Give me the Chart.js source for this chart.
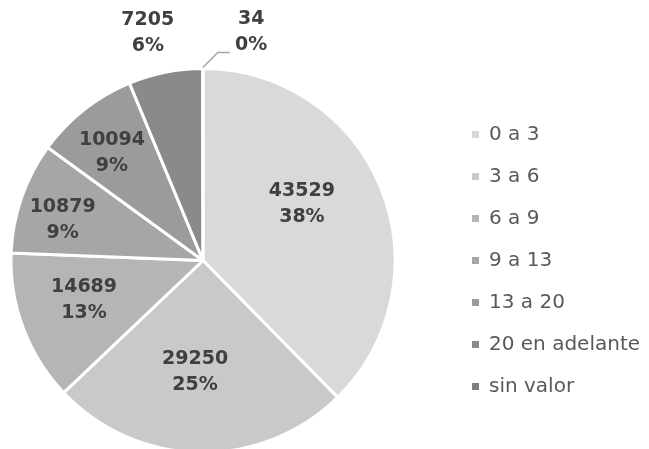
<!DOCTYPE html>
<html>
<head>
<meta charset="utf-8">
<script src="https://cdn.jsdelivr.net/npm/chart.js@4/dist/chart.umd.min.js"></script>
<style>
  html, body { margin: 0; padding: 0; background: #ffffff; overflow: hidden; }
  #frame { position: relative; width: 649px; height: 449px; overflow: hidden; background: #ffffff; }
  #c { position: absolute; left: -44px; top: 0; }
</style>
</head>
<body>
<div id="frame"><canvas id="c" width="693" height="460"></canvas></div>
<script>
// ---- data ----
const categories = ['0 a 3', '3 a 6', '6 a 9', '9 a 13', '13 a 20', '20 en adelante', 'sin valor'];
const values = [43529, 29250, 14689, 10879, 10094, 7205, 34];
const sliceColors = ['#d9d9d9', '#c9c9c9', '#b5b5b5', '#a6a6a6', '#9b9b9b', '#8a8a8a', '#7d7d7d'];

// label placement: [angle offset from slice middle (deg), distance as fraction of radius]
const labelPlacement = [[-7.6, 0.594], [3.1, 0.582], [2.3, 0.653], [-3.2, 0.760], [-2.0, 0.734], [-2.3, 1.221], [12.0, 1.214]];
const LEADER_INDEX = 6;

const labelPlugin = {
  id: 'sliceLabels',
  afterDatasetsDraw(chart) {
    const ctx = chart.ctx;
    const meta = chart.getDatasetMeta(0);
    const data = chart.data.datasets[0].data;
    const total = data.reduce((a, b) => a + b, 0);
    ctx.save();
    ctx.font = 'bold 19px "DejaVu Sans"';
    ctx.fillStyle = '#404040';
    ctx.textAlign = 'center';
    ctx.textBaseline = 'middle';
    meta.data.forEach((arc, i) => {
      const mid = (arc.startAngle + arc.endAngle) / 2;
      const [dAng, f] = labelPlacement[i];
      const a = mid + dAng * Math.PI / 180;
      const r = arc.outerRadius * f;
      const x = arc.x + r * Math.cos(a);
      const y = arc.y + r * Math.sin(a);
      if (i === LEADER_INDEX) {
        const sx = arc.x + (arc.outerRadius + 1) * Math.cos(mid);
        const sy = arc.y + (arc.outerRadius + 1) * Math.sin(mid);
        ctx.save();
        ctx.strokeStyle = '#a6a6a6';
        ctx.lineWidth = 1.5;
        ctx.beginPath();
        ctx.moveTo(sx, sy);
        ctx.lineTo(sx + 15, sy - 15);
        ctx.lineTo(sx + 27, sy - 15);
        ctx.stroke();
        ctx.restore();
      }
      const pct = Math.round(data[i] / total * 100) + '%';
      ctx.fillText(String(data[i]), x, y - 13);
      ctx.fillText(pct, x, y + 13);
    });
    ctx.restore();
  }
};

new Chart(document.getElementById('c'), {
  type: 'pie',
  data: {
    labels: categories,
    datasets: [{
      data: values,
      backgroundColor: sliceColors,
      borderColor: '#ffffff',
      borderWidth: 3
    }]
  },
  options: {
    responsive: false,
    animation: false,
    devicePixelRatio: 1,
    layout: { padding: { left: 0, right: 0, top: 67, bottom: 6 } },
    plugins: {
      tooltip: { enabled: false },
      legend: {
        position: 'right',
        align: 'center',
        maxWidth: 199,
        labels: {
          boxWidth: 7,
          boxHeight: 7,
          padding: 22,
          color: '#595959',
          font: { family: '"DejaVu Sans"', size: 20 },
          generateLabels(chart) {
            const ds = chart.data.datasets[0];
            return chart.data.labels.map((t, i) => ({
              text: t,
              fillStyle: ds.backgroundColor[i],
              strokeStyle: ds.backgroundColor[i],
              lineWidth: 0,
              fontColor: '#595959',
              hidden: false,
              index: i
            }));
          }
        }
      }
    }
  },
  plugins: [labelPlugin]
});
</script>
</body>
</html>
